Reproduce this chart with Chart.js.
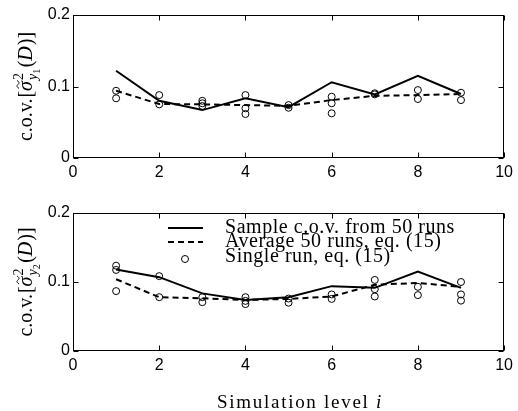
<!DOCTYPE html>
<html><head><meta charset="utf-8">
<script src="https://cdn.jsdelivr.net/npm/chart.js@4.4.1/dist/chart.umd.min.js"></script>
<style>
html,body{margin:0;padding:0;background:#fff;}
#wrap{position:relative;width:518px;height:411px;overflow:hidden;background:#fff;}
canvas{position:absolute;left:0;}
</style></head><body>
<div id="wrap">
<canvas id="c1" width="518" height="195" style="top:0px"></canvas>
<canvas id="c2" width="518" height="216" style="top:195px"></canvas>
</div>
<script>
// ---- data ----
const levels = [1, 2, 3, 4, 5, 6, 7, 8, 9];
const xTicks = [0, 2, 4, 6, 8, 10];
const yTicks = [0, 0.1, 0.2];
const y1Sample  = [0.122, 0.080, 0.067, 0.0835, 0.071, 0.106, 0.089, 0.115, 0.0895];
const y1Average = [0.094, 0.0755, 0.075, 0.074, 0.073, 0.081, 0.087, 0.088, 0.0895];
const y1Single  = [[0.094, 0.0835], [0.088, 0.075], [0.080, 0.0765, 0.0727], [0.088, 0.0695, 0.0615], [0.074, 0.0703], [0.0857, 0.0765, 0.0625], [0.0905, 0.089], [0.095, 0.0825], [0.0913, 0.081]];
const y2Sample  = [0.118, 0.107, 0.0835, 0.074, 0.0778, 0.094, 0.0915, 0.115, 0.0915];
const y2Average = [0.104, 0.078, 0.0764, 0.074, 0.0755, 0.079, 0.096, 0.0986, 0.093];
const y2Single  = [[0.1236, 0.1175, 0.0868], [0.1085, 0.078], [0.078, 0.0708], [0.078, 0.0726, 0.068], [0.076, 0.070], [0.082, 0.0755], [0.103, 0.0896, 0.079], [0.093, 0.081], [0.100, 0.082, 0.073]];
const legendLabels = ['Sample c.o.v. from 50 runs', 'Average 50 runs, eq. (15)', 'Single run, eq. (15)'];
const xTitle = 'Simulation level ';
const xTitleVar = 'i';

const SERIF = '"Liberation Serif", "Times New Roman", serif';
const SANS = '"Liberation Sans", Arial, sans-serif';

function framePlugin() {
  return {
    id: 'frame',
    afterDraw(chart) {
      const {ctx, chartArea: a, scales} = chart;
      ctx.save();
      ctx.strokeStyle = '#000';
      ctx.lineWidth = 1;
      const L = Math.round(a.left) + 0.5, R = Math.round(a.right) - 0.5;
      const T = Math.round(a.top) + 0.5, B = Math.round(a.bottom) - 0.5;
      ctx.strokeRect(L, T, R - L, B - T);
      const tl = 5;
      ctx.beginPath();
      xTicks.forEach(v => {
        const x = Math.round(scales.x.getPixelForValue(v)) + 0.5;
        ctx.moveTo(x, B); ctx.lineTo(x, B - tl);
        ctx.moveTo(x, T); ctx.lineTo(x, T + tl);
      });
      yTicks.forEach(v => {
        const y = Math.round(scales.y.getPixelForValue(v)) + 0.5;
        ctx.moveTo(L, y); ctx.lineTo(L + tl, y);
        ctx.moveTo(R, y); ctx.lineTo(R - tl, y);
      });
      ctx.stroke();
      ctx.restore();
    }
  };
}

function drawYLabel(ctx, bx, cy, digit) {
  const R = '20px ' + SERIF, I = 'italic 20px ' + SERIF;
  const S = '14px ' + SERIF, SI = 'italic 14px ' + SERIF, SS = '10px ' + SERIF;
  const m = (f, t) => { ctx.font = f; return ctx.measureText(t).width; };
  const runs = [];
  let x = 0;
  const add = (f, t, y, extra) => { runs.push({f, t, x, y}); const w = m(f, t); x += w + (extra || 0); return w; };
  add(R, 'c.o.v.', 0, 1);
  add(R, '[', 0, 0);
  const sx = x;
  const ws = add(I, 'σ', 0, 1);
  const tildeX = sx + ws / 2 + 1.5;
  const scX = x;
  runs.push({f: S, t: '2', x: scX, y: -9});
  const w2 = m(S, '2');
  runs.push({f: SI, t: 'y', x: scX, y: 5});
  const wy = m(SI, 'y');
  runs.push({f: SS, t: digit, x: scX + wy, y: 8});
  const wd = m(SS, digit);
  x = scX + Math.max(w2, wy + wd) + 1.5;
  add(R, '(', 0, 0);
  add(I, 'D', 0, 1);
  add(R, ')', 0, 0);
  add(R, ']', 0, 0);
  const total = x;
  ctx.save();
  ctx.translate(bx, cy);
  ctx.rotate(-Math.PI / 2);
  ctx.fillStyle = '#000';
  ctx.textBaseline = 'alphabetic';
  ctx.textAlign = 'left';
  const off = -total / 2;
  runs.forEach(r => { ctx.font = r.f; ctx.fillText(r.t, off + r.x, r.y); });
  // tilde over sigma
  const tx = off + tildeX, ty = -14;
  ctx.beginPath();
  ctx.lineWidth = 1;
  ctx.strokeStyle = '#000';
  ctx.moveTo(tx - 4, ty + 1);
  ctx.bezierCurveTo(tx - 2, ty - 2, tx - 1, ty - 1, tx, ty);
  ctx.bezierCurveTo(tx + 1, ty + 1, tx + 2, ty + 2, tx + 4, ty - 1);
  ctx.stroke();
  ctx.restore();
}

function yLabelPlugin(digit) {
  return {
    id: 'ylab',
    afterDraw(chart) {
      const a = chart.chartArea;
      drawYLabel(chart.ctx, 32, (a.top + a.bottom) / 2, digit);
    }
  };
}

const legendPlugin = {
  id: 'legendBox',
  afterDraw(chart) {
    const ctx = chart.ctx;
    ctx.save();
    ctx.fillStyle = '#000';
    ctx.strokeStyle = '#000';
    ctx.textBaseline = 'alphabetic';
    ctx.textAlign = 'left';
    const font = '20px ' + SERIF;
    ctx.font = font;
    ctx.letterSpacing = '0px';
    const w0 = ctx.measureText(legendLabels[0]).width;
    const ls = Math.max(0, (230 - w0) / legendLabels[0].length);
    ctx.letterSpacing = ls.toFixed(2) + 'px';
    const baselines = [38, 52, 67];
    legendLabels.forEach((t, i) => ctx.fillText(t, 225, baselines[i]));
    ctx.letterSpacing = '0px';
    // samples
    ctx.lineWidth = 2;
    ctx.beginPath(); ctx.moveTo(168, 33); ctx.lineTo(203, 33); ctx.stroke();
    ctx.setLineDash([6, 4]);
    ctx.beginPath(); ctx.moveTo(168, 47); ctx.lineTo(203, 47); ctx.stroke();
    ctx.setLineDash([]);
    ctx.lineWidth = 1;
    ctx.beginPath(); ctx.arc(185, 64, 3.5, 0, Math.PI * 2); ctx.stroke();
    // x title
    ctx.font = '19px ' + SERIF;
    const wA = ctx.measureText(xTitle).width;
    ctx.font = 'italic 19px ' + SERIF;
    const wB = ctx.measureText(xTitleVar).width;
    const target = 166;
    const n = xTitle.length + 1;
    const ls2 = Math.max(0, (target - wA - wB) / n);
    const startX = 300 - target / 2;
    ctx.font = '19px ' + SERIF;
    ctx.letterSpacing = ls2.toFixed(2) + 'px';
    ctx.fillText(xTitle, startX, 213);
    const w2 = ctx.measureText(xTitle).width;
    ctx.font = 'italic 19px ' + SERIF;
    ctx.fillText(xTitleVar, startX + w2, 213);
    ctx.letterSpacing = '0px';
    ctx.restore();
  }
};

function makeChart(id, sample, avg, single, cfg) {
  const singlePts = [];
  levels.forEach((lv, i) => single[i].forEach(v => singlePts.push({x: lv, y: v})));
  const tickFont = {family: SANS, size: 16};
  const plugins = [framePlugin(), yLabelPlugin(cfg.digit)];
  if (cfg.legend) plugins.push(legendPlugin);
  return new Chart(document.getElementById(id), {
    type: 'line',
    data: {
      datasets: [
        {label: legendLabels[2], data: singlePts, showLine: false, pointRadius: 3.5, pointHoverRadius: 3.5,
         pointBorderWidth: 1, borderColor: '#000', pointBorderColor: '#000', pointBackgroundColor: 'rgba(0,0,0,0)', pointStyle: 'circle'},
        {label: legendLabels[0], data: levels.map((lv, i) => ({x: lv, y: sample[i]})), borderColor: '#000',
         borderWidth: 2, pointRadius: 0, fill: false, tension: 0},
        {label: legendLabels[1], data: levels.map((lv, i) => ({x: lv, y: avg[i]})), borderColor: '#000',
         borderWidth: 2, borderDash: [6, 4], pointRadius: 0, fill: false, tension: 0}
      ]
    },
    options: {
      responsive: false, animation: false, devicePixelRatio: 1,
      layout: {padding: {top: cfg.top, right: 10, left: 0, bottom: 0}},
      plugins: {legend: {display: false}, tooltip: {enabled: false}},
      scales: {
        x: {
          type: 'linear', min: 0, max: 10,
          afterBuildTicks: s => { s.ticks = xTicks.map(v => ({value: v})); },
          grid: {display: false, drawTicks: false}, border: {display: false},
          ticks: {padding: 5, color: '#000', font: tickFont, maxRotation: 0, autoSkip: false, callback: v => String(v)},
          afterFit: s => { s.height = cfg.xh; }
        },
        y: {
          type: 'linear', min: 0, max: 0.2,
          afterBuildTicks: s => { s.ticks = yTicks.map(v => ({value: v})); },
          grid: {display: false, drawTicks: false}, border: {display: false},
          ticks: {padding: 3, color: '#000', font: tickFont, callback: v => String(Math.round(v * 10) / 10)},
          afterFit: s => { s.width = 73; }
        }
      }
    },
    plugins: plugins
  });
}

makeChart('c1', y1Sample, y1Average, y1Single, {top: 15, xh: 37, digit: '1', legend: false});
makeChart('c2', y2Sample, y2Average, y2Single, {top: 18, xh: 60, digit: '2', legend: true});
</script>
</body></html>
